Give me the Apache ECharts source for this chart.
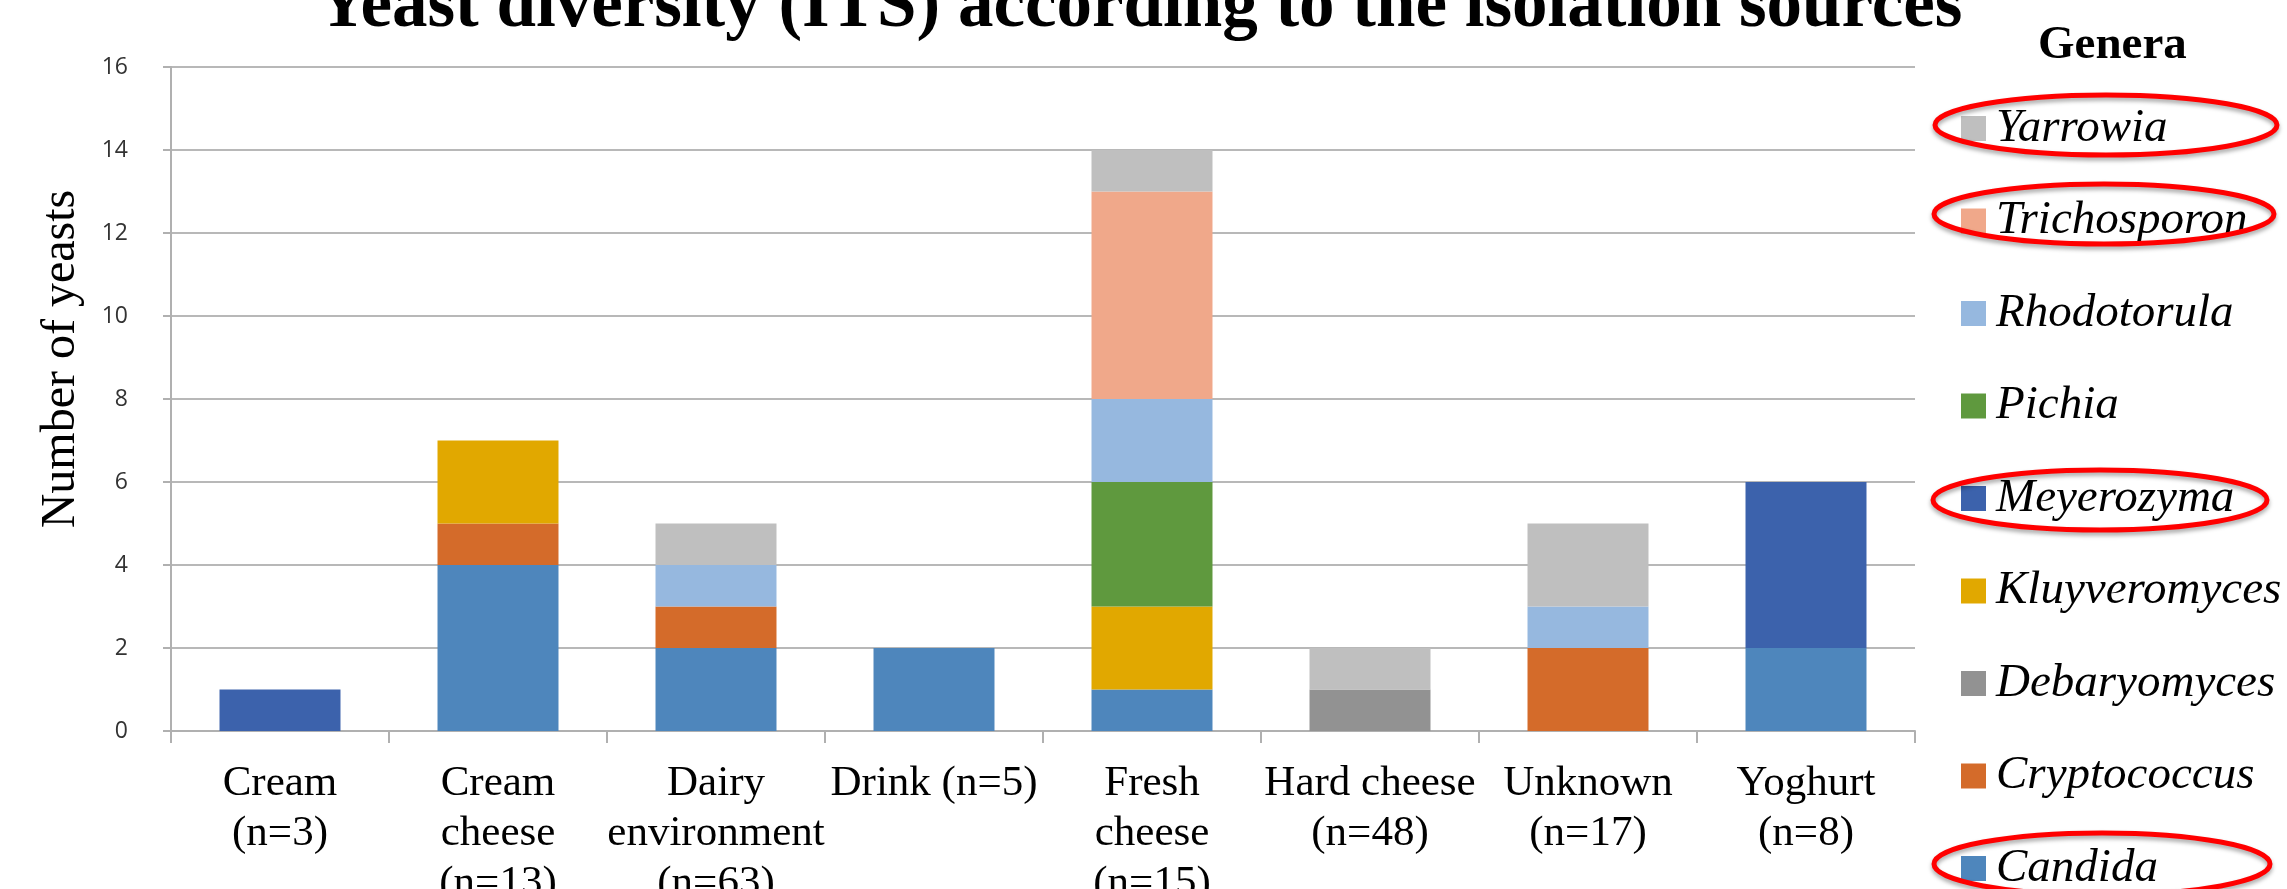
<!DOCTYPE html>
<html>
<head>
<meta charset="utf-8">
<style>
  html, body { margin: 0; padding: 0; background: #fff; }
  #chart { width: 2287px; height: 889px; }
</style>
<script src="https://cdn.jsdelivr.net/npm/echarts@6/dist/echarts.min.js"></script>
</head>
<body>
<div id="chart"></div>
<script>
// isolation sources (x axis)
var categories = ['Cream\n(n=3)', 'Cream\ncheese\n(n=13)', 'Dairy\nenvironment\n(n=63)', 'Drink (n=5)',
  'Fresh\ncheese\n(n=15)', 'Hard cheese\n(n=48)', 'Unknown\n(n=17)', 'Yoghurt\n(n=8)']

// genera, bottom of the stack first
var genera = ['Candida', 'Cryptococcus', 'Debaryomyces', 'Kluyveromyces', 'Meyerozyma', 'Pichia', 'Rhodotorula', 'Trichosporon', 'Yarrowia']
var candida = [0, 4, 2, 2, 1, 0, 0, 2]
var cryptococcus = [0, 1, 1, 0, 0, 0, 2, 0]
var debaryomyces = [0, 0, 0, 0, 0, 1, 0, 0]
var kluyveromyces = [0, 2, 0, 0, 2, 0, 0, 0]
var meyerozyma = [1, 0, 0, 0, 0, 0, 0, 4]
var pichia = [0, 0, 0, 0, 3, 0, 0, 0]
var rhodotorula = [0, 0, 1, 0, 2, 0, 1, 0]
var trichosporon = [0, 0, 0, 0, 5, 0, 0, 0]
var yarrowia = [0, 0, 1, 0, 1, 1, 2, 0]
var values = [candida, cryptococcus, debaryomyces, kluyveromyces, meyerozyma, pichia, rhodotorula, trichosporon, yarrowia]

var colors = ['#4e86bc', '#d46b2a', '#929292', '#e1a800', '#3c62ac', '#5f993e', '#96b8df', '#f0a88a', '#bfbfbf']

// legend entries that are circled in red
var circled = [
  { cx: 2106, cy: 125, rx: 171, ry: 30 }, // Yarrowia
  { cx: 2104, cy: 214, rx: 170, ry: 30 }, // Trichosporon
  { cx: 2100, cy: 500, rx: 167, ry: 30 }, // Meyerozyma
  { cx: 2102, cy: 864, rx: 168, ry: 31 }, // Candida
]

var serif = '"Liberation Serif", "Times New Roman", serif'

var chart = echarts.init(document.getElementById('chart'))

var series = genera.map(function (name, i) {
  return {
    name: name,
    type: 'bar',
    stack: 'total',
    barWidth: '55.5%',
    data: values[i],
    itemStyle: { color: colors[i] },
  }
})

var option = {
  animation: false,
  backgroundColor: '#fff',
  title: [
    {
      // cut off at the top in the original
      text: 'Yeast diversity (ITS) according to the isolation sources',
      left: 312,
      top: -33,
      textStyle: { fontFamily: serif, fontSize: 71, fontWeight: 'bold', color: '#000', lineHeight: 71 },
    },
    {
      text: 'Genera',
      left: 2033,
      top: 17,
      textStyle: { fontFamily: serif, fontSize: 47, fontWeight: 'bold', color: '#000', lineHeight: 47 },
    },
  ],
  legend: {
    orient: 'vertical',
    left: 1961,
    top: 105,
    height: 900,
    padding: 0,
    itemWidth: 25,
    itemHeight: 25,
    itemGap: 45.5,
    icon: 'rect',
    data: genera.slice().reverse(),
    textStyle: {
      fontFamily: serif,
      fontSize: 47,
      fontStyle: 'italic',
      color: '#000',
      padding: [0, 0, 0, 5],
    },
  },
  grid: {
    left: 171,
    right: 372,
    top: 67,
    bottom: 158,
    containLabel: false,
    outerBoundsMode: 'none',
  },
  xAxis: {
    type: 'category',
    data: categories,
    axisLine: { lineStyle: { color: '#b0b0b0', width: 2 } },
    axisTick: { show: true, length: 12, lineStyle: { color: '#b0b0b0', width: 2 } },
    axisLabel: {
      interval: 0,
      margin: 28,
      fontFamily: serif,
      fontSize: 43,
      lineHeight: 50,
      color: '#000',
    },
  },
  yAxis: {
    type: 'value',
    min: 0,
    max: 16,
    interval: 2,
    name: 'Number of yeasts',
    nameLocation: 'middle',
    nameGap: 86,
    nameTextStyle: { fontFamily: serif, fontSize: 48, color: '#000', padding: [0, 0, 0, 80] },
    axisLine: { show: true, lineStyle: { color: '#b0b0b0', width: 2 } },
    axisTick: { show: true, length: 8, lineStyle: { color: '#b0b0b0', width: 2 } },
    axisLabel: { margin: 43, fontFamily: '"Open Sans", sans-serif', fontSize: 23, color: '#333' },
    splitLine: { lineStyle: { color: '#b8b8b8', width: 2 } },
  },
  graphic: circled.map(function (e) {
    return {
      type: 'ellipse',
      shape: e,
      z: 100,
      style: {
        fill: 'none',
        stroke: '#ff0000',
        lineWidth: 5,
        shadowBlur: 4,
        shadowColor: 'rgba(0,0,0,0.35)',
        shadowOffsetY: 3,
      },
    }
  }),
  series: series,
}

chart.setOption(option)
</script>
</body>
</html>
